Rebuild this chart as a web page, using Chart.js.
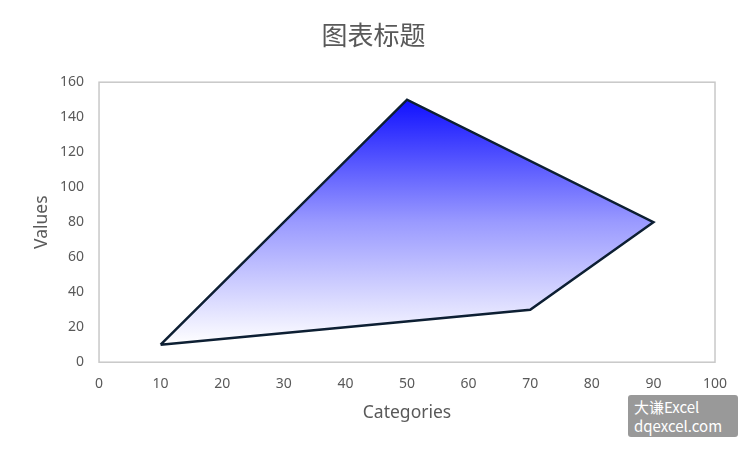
<!DOCTYPE html>
<html>
<head>
<meta charset="utf-8">
<script src="https://cdn.jsdelivr.net/npm/chart.js@4"></script>
<style>
  html, body { margin: 0; padding: 0; background: #fff; }
  #wrap { position: relative; width: 750px; height: 450px; }
  #mark {
    position: absolute; left: 628px; top: 395px; width: 110px; height: 42px;
    background: #999; color: #fff; border-radius: 3px;
    font: 15px "Noto Sans CJK SC", "Noto Sans", sans-serif; line-height: 19px;
    padding: 2px 0 0 6px; box-sizing: border-box;
  }
</style>
</head>
<body>
<div id="wrap">
  <canvas id="chart" width="750" height="450"></canvas>
  <div id="mark">大谦Excel<br>dqexcel.com</div>
</div>
<script>
// polygon corners, last one repeats the first to close the shape
let categories = [10, 50, 90, 70, 10];
let values = [10, 150, 80, 30, 10];
let xTicks = [0, 10, 20, 30, 40, 50, 60, 70, 80, 90, 100];
let yTicks = [0, 20, 40, 60, 80, 100, 120, 140, 160];

let points = categories.map((x, i) => ({ x: x, y: values[i] }));

// light gray box round the plot area
let plotBox = {
    id: 'plotBox',
    beforeDatasetsDraw(chart) {
        let a = chart.chartArea, c = chart.ctx;
        c.save();
        c.strokeStyle = '#c8c8c8';
        c.lineWidth = 1.5;
        c.strokeRect(a.left, a.top, a.right - a.left, a.bottom - a.top);
        c.restore();
    }
};

function shapeGradient(context) {
    let chart = context.chart;
    if (!chart.chartArea) return 'rgba(0,0,255,0.5)';
    let y = chart.scales.y;
    let top = y.getPixelForValue(Math.max(...values));
    let bottom = y.getPixelForValue(Math.min(...values));
    let g = chart.ctx.createLinearGradient(0, top, 0, bottom);
    g.addColorStop(0, '#1010ff');
    g.addColorStop(0.5, '#9a9aff');
    g.addColorStop(1, '#ffffff');
    return g;
}

let gray = '#595959';
let ctx = document.getElementById('chart').getContext('2d');
let chart = new Chart(ctx, {
    type: 'scatter',
    data: {
        datasets: [{
            data: points,
            showLine: true,
            fill: 'shape',
            backgroundColor: shapeGradient,
            borderColor: '#0d1f33',
            borderWidth: 2.5,
            pointRadius: 0,
            tension: 0
        }]
    },
    options: {
        responsive: false,
        animation: false,
        layout: { padding: { left: 32, right: 35, top: 8, bottom: 26 } },
        plugins: {
            legend: { display: false },
            tooltip: { enabled: false },
            title: {
                display: true,
                text: '图表标题',
                color: gray,
                font: { family: '"Noto Sans CJK SC", sans-serif', size: 26, weight: 'normal' },
                padding: { top: 12, bottom: 31 }
            }
        },
        scales: {
            x: {
                type: 'linear',
                min: 0, max: 100,
                afterBuildTicks: axis => { axis.ticks = xTicks.map(v => ({ value: v })); },
                grid: { display: false },
                border: { display: false },
                ticks: { color: gray, padding: 5, font: { family: '"Noto Sans", sans-serif', size: 14 } },
                title: {
                    display: true, text: 'Categories', color: gray,
                    font: { family: '"Noto Sans", sans-serif', size: 17.5 },
                    padding: { top: 6, bottom: 0 }
                }
            },
            y: {
                type: 'linear',
                min: 0, max: 160,
                afterBuildTicks: axis => { axis.ticks = yTicks.map(v => ({ value: v })); },
                grid: { display: false },
                border: { display: false },
                ticks: { color: gray, padding: 7, font: { family: '"Noto Sans", sans-serif', size: 14 } },
                title: {
                    display: true, text: 'Values', color: gray,
                    font: { family: '"Noto Sans", sans-serif', size: 17.5 },
                    padding: { top: 0, bottom: 0 }
                }
            }
        }
    },
    plugins: [plotBox]
});
</script>
</body>
</html>
